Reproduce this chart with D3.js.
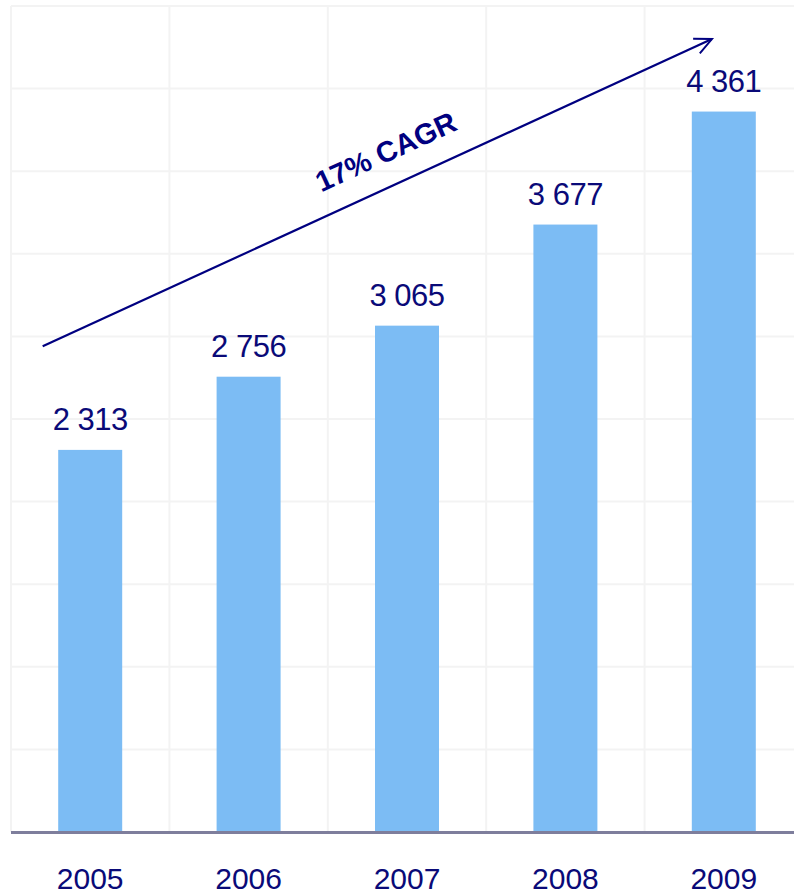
<!DOCTYPE html>
<html>
<head>
<meta charset="utf-8">
<script src="https://cdn.jsdelivr.net/npm/d3@7"></script>
<style>
  html, body { margin: 0; padding: 0; background: #fff; }
  svg { display: block; }
</style>
</head>
<body>
<div id="chart"></div>
<script>
// data
const years = ["2005", "2006", "2007", "2008", "2009"];
const values = [2313, 2756, 3065, 3677, 4361];
const yTicks = d3.range(0, 5001, 500);

// CAGR arrow, in (band position, value) units
const cagrArrow = [{pos: -0.3, value: 2940}, {pos: 3.925, value: 4800}];
const cagrLabel = {text: "17% CAGR", pos: 1.893, value: 4062};

const fmt = v => d3.format(",")(v).replace(/,/g, " ");

function setup_chart_area() {
    const width = 794, height = 896;
    const plot = {left: 11, right: 803, top: 6, bottom: 832};

    var svg = d3.select("#chart")
        .append("svg")
        .attr("width", width)
        .attr("height", height);

    return [plot, width, height, svg];
}

function draw_barchart() {
    var [plot, width, height, svg] = setup_chart_area();

    var x = d3.scaleBand()
        .domain(years)
        .range([plot.left, plot.right])
        .paddingInner(0.596)
        .paddingOuter(0.298);
    var xGrid = d3.scaleBand()
        .domain(years)
        .range([plot.left, plot.right])
        .padding(0);
    var xPos = d3.scaleLinear()
        .domain([-0.5, years.length - 0.5])
        .range([plot.left, plot.right]);
    var y = d3.scaleLinear()
        .domain([0, 5000])
        .range([plot.bottom, plot.top]);

    // grid
    var grid = svg.append("g").attr("stroke", "#f3f3f3").attr("stroke-width", 2);
    grid.selectAll("line.h")
        .data(yTicks)
        .join("line")
        .attr("class", "h")
        .attr("x1", plot.left).attr("x2", width)
        .attr("y1", d => y(d)).attr("y2", d => y(d));
    grid.selectAll("line.v")
        .data(years.concat(["end"]))
        .join("line")
        .attr("class", "v")
        .attr("x1", (d, i) => i < years.length ? xGrid(d) : plot.right)
        .attr("x2", (d, i) => i < years.length ? xGrid(d) : plot.right)
        .attr("y1", y(5000)).attr("y2", y(0));

    // bars
    svg.append("g")
        .selectAll("rect")
        .data(values)
        .join("rect")
        .attr("x", (d, i) => x(years[i]))
        .attr("width", x.bandwidth())
        .attr("y", d => y(d))
        .attr("height", d => y(0) - y(d))
        .attr("fill", "#7cbcf4");

    // base line
    svg.append("line")
        .attr("x1", plot.left).attr("x2", width)
        .attr("y1", y(0) + 0.5).attr("y2", y(0) + 0.5)
        .attr("stroke", "#7e7e9c")
        .attr("stroke-width", 3);

    // value labels
    svg.append("g")
        .selectAll("text")
        .data(values)
        .join("text")
        .attr("x", (d, i) => x(years[i]) + x.bandwidth() / 2)
        .attr("y", d => y(d) - 20)
        .attr("text-anchor", "middle")
        .attr("font-family", "Liberation Sans, Arial, sans-serif")
        .attr("font-size", 31)
        .attr("letter-spacing", -0.5)
        .attr("fill", "#0a0a78")
        .text(d => fmt(d));

    // year labels
    svg.append("g")
        .selectAll("text")
        .data(years)
        .join("text")
        .attr("x", d => x(d) + x.bandwidth() / 2)
        .attr("y", 889)
        .attr("text-anchor", "middle")
        .attr("font-family", "Liberation Sans, Arial, sans-serif")
        .attr("font-size", 30)
        .attr("fill", "#0a0a78")
        .text(d => d);

    // CAGR arrow
    svg.append("defs").append("marker")
        .attr("id", "chev")
        .attr("markerUnits", "userSpaceOnUse")
        .attr("viewBox", "0 0 20 20")
        .attr("refX", 18).attr("refY", 10)
        .attr("markerWidth", 20).attr("markerHeight", 20)
        .attr("orient", "auto")
        .append("path")
        .attr("d", "M1,2 L18,10 L1,18")
        .attr("fill", "none")
        .attr("stroke", "#000080")
        .attr("stroke-width", 2);

    var arrowLine = d3.line()
        .x(d => xPos(d.pos))
        .y(d => y(d.value));

    svg.append("path")
        .datum(cagrArrow)
        .attr("d", arrowLine)
        .attr("fill", "none")
        .attr("stroke", "#000080")
        .attr("stroke-width", 2.2)
        .attr("marker-end", "url(#chev)");

    var [a, b] = cagrArrow;
    var angle = Math.atan2(y(b.value) - y(a.value), xPos(b.pos) - xPos(a.pos)) * 180 / Math.PI;
    var lx = xPos(cagrLabel.pos), ly = y(cagrLabel.value);
    svg.append("text")
        .attr("transform", `translate(${lx}, ${ly}) rotate(${angle})`)
        .attr("text-anchor", "middle")
        .attr("font-family", "Liberation Sans, Arial, sans-serif")
        .attr("font-weight", "bold")
        .attr("font-size", 29)
        .attr("fill", "#000080")
        .text(cagrLabel.text);
}

draw_barchart();
</script>
</body>
</html>
